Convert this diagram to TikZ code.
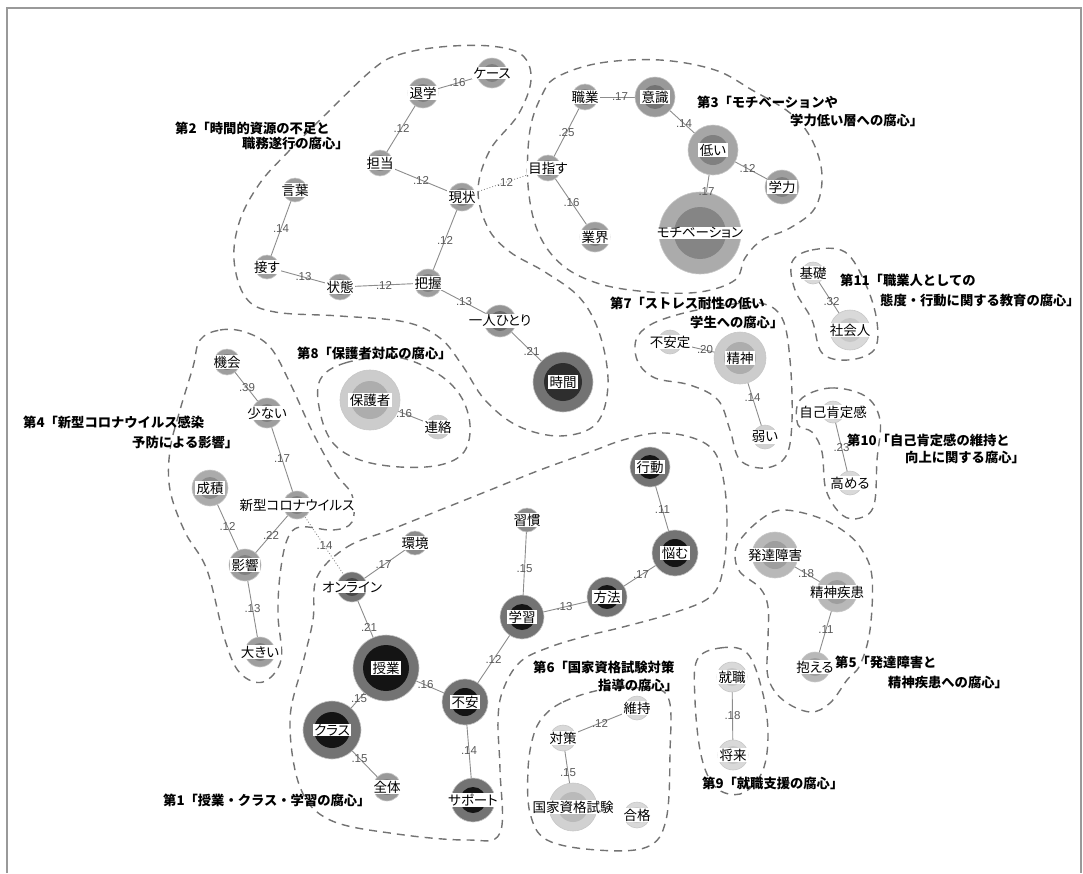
\documentclass[tikz,border=0pt]{standalone}
\usepackage{fontspec}
\setmainfont{Liberation Sans}
\newfontfamily\jp{Noto Sans CJK JP}
\newfontfamily\jpp[RawFeature=+palt]{Noto Sans CJK JP}
\pgfdeclarelayer{bg}
\pgfsetlayers{bg,main}
\tikzset{
 kwc/.style={circle, inner sep=0pt, draw=black!22, line width=0.6pt},
 kwl/.style={fill=white, inner xsep=1.5pt, inner ysep=0.6pt, font=\jpp\fontsize{13.5}{14}\selectfont},
 edge/.style={draw=black!45, line width=0.9pt},
 dotedge/.style={draw=black!45, line width=0.9pt, dotted},
 elab/.style={font=\fontsize{11.5}{12}\selectfont, text=black!65, inner sep=0pt, midway},
 clus/.style={draw=black!55, line width=1.4pt, dash pattern=on 8pt off 6pt},
 clab/.style={anchor=west, inner sep=0pt, font=\jp\bfseries\fontsize{13.3}{15}\selectfont},
 frame/.style={draw=black!40, line width=2.5pt},
}
\newcommand{\kw}[8]{%
 \node[kwc, minimum size=#4*2pt, fill=#6] (#1) at (#2,#3) {};
 \fill[#7] (#1.center) circle[radius=#5pt];
 \node[kwl] (#1-t) at (#1.center) {#8};
}
\newcommand{\ed}[4][edge]{%
 \begin{pgfonlayer}{bg}\draw[#1] (#2.center) -- (#3.center);\end{pgfonlayer}
 \path (#2.center) -- node[elab] (#2#3-l) {#4} (#3.center);
}
\begin{document}
\begin{tikzpicture}[x=1pt,y=-1pt]
\useasboundingbox (0,0) rectangle (1083,873);
\draw[frame] (7,873) -- (7,8) -- (1081,8) -- (1081,873);

% cluster outlines
\draw[clus] plot[smooth cycle, tension=0.6] coordinates {(372,70) (398,55) (440,47) (490,46) (522,55) (531,80) (518,115) (490,150) (478,190) (488,228) (510,252) (545,272) (580,298) (600,335) (608,385) (596,424) (560,436) (518,426) (485,400) (462,365) (440,338) (405,322) (340,316) (275,312) (246,298) (234,260) (240,220) (260,183) (288,152) (325,115)};
\draw[clus] plot[smooth cycle, tension=0.6] coordinates {(557,77) (600,63) (660,60) (715,70) (752,90) (790,113) (812,140) (822,175) (815,208) (790,228) (762,240) (745,258) (735,280) (700,292) (650,292) (600,284) (562,265) (538,232) (528,185) (530,130) (542,95)};
\draw[clus] plot[smooth cycle, tension=0.6] coordinates {(792,262) (812,250) (845,252) (866,285) (877,322) (874,350) (848,360) (822,353) (812,320) (795,290)};
\draw[clus] plot[smooth cycle, tension=0.6] coordinates {(800,400) (830,388) (865,396) (880,420) (877,460) (874,505) (860,518) (842,515) (826,490) (822,452) (812,432) (798,425)};
\draw[clus] plot[smooth cycle, tension=0.6] coordinates {(636,340) (650,325) (680,314) (720,306) (760,303) (782,318) (790,360) (792,420) (786,456) (765,468) (740,460) (730,430) (718,400) (690,385) (655,378) (638,362)};
\draw[clus] plot[smooth cycle, tension=0.6] coordinates {(320,380) (345,363) (395,357) (435,372) (460,395) (470,425) (464,452) (440,465) (400,467) (360,460) (333,443) (320,412)};
\draw[clus] plot[smooth cycle, tension=0.6] coordinates {(200,340) (220,330) (245,332) (270,347) (290,383) (313,433) (335,473) (352,495) (352,522) (333,530) (300,527) (287,540) (280,575) (278,615) (281,660) (263,682) (240,673) (225,640) (207,570) (185,532) (170,490) (170,450) (180,410) (193,367)};
\draw[clus] plot[smooth cycle, tension=0.6] coordinates {(317,577) (347,547) (390,530) (440,510) (490,490) (540,470) (590,452) (623,440) (657,433) (690,437) (713,450) (723,477) (727,520) (723,570) (710,597) (673,613) (623,627) (590,635) (550,647) (520,662) (503,690) (498,720) (500,770) (500,833) (467,840) (397,834) (330,820) (300,787) (290,720) (303,663) (313,620)};
\draw[clus] plot[smooth cycle, tension=0.6] coordinates {(543,717) (563,702) (600,690) (640,688) (668,697) (670,753) (666,820) (647,847) (597,850) (547,840) (530,813) (528,770) (533,737)};
\draw[clus] plot[smooth cycle, tension=0.6] coordinates {(740,540) (760,520) (782,510) (817,517) (845,532) (862,550) (872,577) (870,630) (860,665) (847,680) (830,703) (810,712) (783,700) (768,677) (768,640) (768,607) (760,588) (740,572) (735,555)};
\draw[clus] plot[smooth cycle, tension=0.6] coordinates {(697,660) (720,648) (747,653) (762,690) (768,733) (763,770) (745,792) (725,793) (710,780) (700,750) (695,700)};

% cluster 2
\kw{A1}{423}{93}{15}{9}{black!38}{black!50}{退学}
\kw{A2}{492}{73}{15}{9}{black!38}{black!50}{ケース}
\kw{A3}{380}{163}{13}{8}{black!38}{black!50}{担当}
\kw{A4}{462}{197}{14}{9}{black!38}{black!50}{現状}
\kw{A5}{295}{190}{12}{7}{black!38}{black!50}{言葉}
\kw{A6}{267}{267}{12}{7}{black!38}{black!50}{接す}
\kw{A7}{340}{287}{13}{8}{black!38}{black!50}{状態}
\kw{A8}{428}{283}{14}{9}{black!38}{black!50}{把握}
\kw{A9}{500}{321}{16}{10}{black!42}{black!58}{一人ひとり}
\kw{A10}{563}{382}{30}{19}{black!55}{black!82}{時間}
% cluster 3
\kw{B1}{585}{97}{13}{8}{black!38}{black!50}{職業}
\kw{B2}{655}{97}{20}{12}{black!40}{black!55}{意識}
\kw{B3}{713}{150}{25}{15}{black!35}{black!50}{低い}
\kw{B4}{782}{187}{17}{10}{black!38}{black!50}{学力}
\kw{B5}{548}{168}{13}{8}{black!38}{black!50}{目指す}
\kw{B6}{595}{237}{15}{9}{black!38}{black!50}{業界}
\kw{B7}{700}{233}{41}{26}{black!33}{black!48}{モチベーション}
% cluster 11, 10
\kw{C1}{813}{273}{11}{7}{black!15}{black!22}{基礎}
\kw{C2}{850}{330}{20}{12}{black!15}{black!22}{社会人}
\kw{D1}{833}{412}{11}{7}{black!15}{black!22}{自己肯定感}
\kw{D2}{850}{483}{12}{7}{black!15}{black!22}{高める}
% cluster 7
\kw{E1}{670}{342}{12}{7}{black!18}{black!25}{不安定}
\kw{E2}{740}{358}{26}{16}{black!20}{black!32}{精神}
\kw{E3}{765}{437}{12}{7}{black!18}{black!25}{弱い}
% cluster 8
\kw{F1}{370}{400}{30}{19}{black!20}{black!32}{保護者}
\kw{F2}{438}{427}{12}{7}{black!20}{black!28}{連絡}
% cluster 4
\kw{G1}{227}{362}{13}{8}{black!38}{black!50}{機会}
\kw{G2}{267}{413}{15}{9}{black!38}{black!50}{少ない}
\kw{G3}{210}{488}{18}{11}{black!33}{black!45}{成積}
\kw{G4}{297}{505}{14}{9}{black!38}{black!50}{新型コロナウイルス}
\kw{G5}{245}{565}{16}{10}{black!38}{black!50}{影響}
\kw{G6}{260}{652}{15}{9}{black!38}{black!50}{大きい}
% cluster 1
\kw{H1}{386}{668}{33}{23}{black!55}{black!92}{授業}
\kw{H2}{332}{730}{29}{18}{black!55}{black!92}{クラス}
\kw{H3}{465}{702}{23}{14}{black!55}{black!92}{不安}
\kw{H4}{473}{800}{22}{13}{black!55}{black!92}{サポート}
\kw{H5}{387}{787}{14}{8}{black!40}{black!52}{全体}
\kw{H6}{352}{587}{15}{9}{black!55}{black!72}{オンライン}
\kw{H7}{415}{543}{12}{7}{black!45}{black!55}{環境}
\kw{H8}{527}{520}{12}{7}{black!45}{black!55}{習慣}
\kw{H9}{522}{617}{22}{13}{black!55}{black!92}{学習}
\kw{H10}{607}{597}{20}{12}{black!55}{black!92}{方法}
\kw{H11}{675}{553}{23}{14}{black!55}{black!92}{悩む}
\kw{H12}{650}{467}{20}{12}{black!55}{black!92}{行動}
% cluster 6
\kw{I1}{563}{738}{13}{8}{black!15}{black!22}{対策}
\kw{I2}{637}{708}{12}{7}{black!15}{black!22}{維持}
\kw{I3}{573}{807}{24}{15}{black!18}{black!27}{国家資格試験}
\kw{I4}{637}{815}{13}{8}{black!15}{black!22}{合格}
% cluster 5
\kw{J1}{775}{555}{23}{14}{black!28}{black!38}{発達障害}
\kw{J2}{837}{592}{20}{12}{black!28}{black!38}{精神疾患}
\kw{J3}{815}{667}{15}{9}{black!28}{black!38}{抱える}
% cluster 9
\kw{K1}{732}{677}{15}{9}{black!15}{black!22}{就職}
\kw{K2}{733}{755}{15}{9}{black!15}{black!22}{将来}

% edges
\ed{A1}{A2}{.16}
\ed{A1}{A3}{.12}
\ed{A3}{A4}{.12}
\ed[dotedge]{A4}{B5}{.12}
\ed{A5}{A6}{.14}
\ed{A6}{A7}{.13}
\ed{A7}{A8}{.12}
\ed{A4}{A8}{.12}
\ed{A8}{A9}{.13}
\ed{A9}{A10}{.21}
\ed{B1}{B2}{.17}
\ed{B2}{B3}{.14}
\ed{B3}{B4}{.12}
\ed{B3}{B7}{.17}
\ed{B1}{B5}{.25}
\ed{B5}{B6}{.16}
\ed{C1}{C2}{.32}
\ed{D1}{D2}{.23}
\ed{E1}{E2}{.20}
\ed{E2}{E3}{.14}
\ed{F1}{F2}{.16}
\ed{G1}{G2}{.39}
\ed{G2}{G4}{.17}
\ed{G3}{G5}{.12}
\ed{G4}{G5}{.22}
\ed{G5}{G6}{.13}
\ed[dotedge]{G4}{H6}{.14}
\ed{H7}{H6}{.17}
\ed{H6}{H1}{.21}
\ed{H8}{H9}{.15}
\ed{H9}{H10}{.13}
\ed{H10}{H11}{.17}
\ed{H12}{H11}{.11}
\ed{H9}{H3}{.12}
\ed{H1}{H3}{.16}
\ed{H1}{H2}{.15}
\ed{H2}{H5}{.15}
\ed{H3}{H4}{.14}
\ed{I1}{I2}{.12}
\ed{I1}{I3}{.15}
\ed{J1}{J2}{.18}
\ed{J2}{J3}{.11}
\ed{K1}{K2}{.18}

% cluster labels
\node[clab] (L2a) at (175,128) {第2「時間的資源の不足と};
\node[clab] (L2b) at (242,143) {職務遂行の腐心」};
\node[clab] (L3a) at (697,102) {第3「モチベーションや};
\node[clab] (L3b) at (790,120) {学力低い層への腐心」};
\node[clab] (L11a) at (840,280) {第11「職業人としての};
\node[clab] (L11b) at (880,300) {態度・行動に関する教育の腐心」};
\node[clab] (L7a) at (610,303) {第7「ストレス耐性の低い};
\node[clab] (L7b) at (690,322) {学生への腐心」};
\node[clab] (L8) at (297,353) {第8「保護者対応の腐心」};
\node[clab] (L4a) at (23,422) {第4「新型コロナウイルス感染};
\node[clab] (L4b) at (132,442) {予防による影響」};
\node[clab] (L10a) at (847,440) {第10「自己肯定感の維持と};
\node[clab] (L10b) at (905,457) {向上に関する腐心」};
\node[clab] (L6a) at (533,667) {第6「国家資格試験対策};
\node[clab] (L6b) at (598,685) {指導の腐心」};
\node[clab] (L5a) at (835,662) {第5「発達障害と};
\node[clab] (L5b) at (888,682) {精神疾患への腐心」};
\node[clab] (L9) at (702,783) {第9「就職支援の腐心」};
\node[clab] (L1) at (163,800) {第1「授業・クラス・学習の腐心」};
\end{tikzpicture}
\end{document}
